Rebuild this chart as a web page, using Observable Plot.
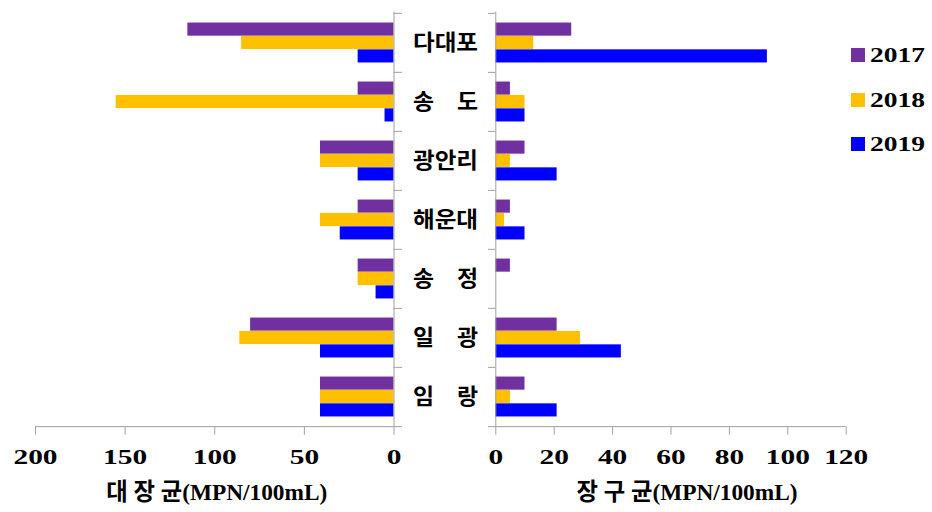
<!DOCTYPE html>
<html>
<head>
<meta charset="utf-8">
<script src="https://cdn.jsdelivr.net/npm/d3@7"></script>
<script src="https://cdn.jsdelivr.net/npm/@observablehq/plot@0.6"></script>
<style>
  html, body { margin: 0; padding: 0; background: #fff; }
  #wrap { position: relative; width: 932px; height: 512px; overflow: hidden; }
  #wrap svg { position: absolute; left: 0; top: 0; }
  .leg { position: absolute; left: 851px; height: 24px; display: flex; align-items: center;
         font-family: "Liberation Serif", "Times New Roman", serif;
         font-weight: bold; font-size: 22px; color: #000; white-space: nowrap; }
  .leg .sw { width: 14px; height: 14px; margin-right: 5px; flex: none; }
  .leg .tx { display: inline-block; transform-origin: left center; }
  #wrap svg text { font-family: "Liberation Serif", "Times New Roman", "Noto Sans CJK KR", serif; }
</style>
</head>
<body>
<div id="wrap"></div>
<script>
// ---- data ----
const sites = ["다대포", "송　도", "광안리", "해운대", "송　정", "일　광", "임　랑"];
const years = ["2017", "2018", "2019"];
const colors = ["#7030A0", "#FFC000", "#0000FF"];
const ecoli2017 = [115, 20, 41, 20, 20, 80, 41];
const ecoli2018 = [85, 155, 41, 41, 20, 86, 41];
const ecoli2019 = [20, 5, 20, 30, 10, 41, 41];
const entero2017 = [26, 5, 10, 5, 5, 21, 10];
const entero2018 = [13, 10, 5, 3, 0, 29, 5];
const entero2019 = [93, 10, 21, 10, 0, 43, 21];
const ecoliTicks = [0, 50, 100, 150, 200];
const enteroTicks = [0, 20, 40, 60, 80, 100, 120];
const ecoliTitle = "대 장 균(MPN/100mL)";
const enteroTitle = "장 구 균(MPN/100mL)";

// ---- layout ----
const W = 932, H = 512;
const mTop = 11.7, mBottom = H - 426.7;
const bw = (H - mTop - mBottom) / sites.length;
const bh = 13.4;
const off = (bw - 3 * bh) / 2;
const grey = "#a0a0a0";
const font = "'Liberation Serif','Times New Roman','Noto Sans CJK KR',serif";

const rows = (vals) => sites.map((s, i) => ({site: s, value: vals[i]}));
const barMarks = (series) => series.map((vals, k) =>
  Plot.barX(rows(vals), {
    x: "value", y: "site", fill: colors[k],
    insetTop: off + k * bh, insetBottom: bw - off - (k + 1) * bh
  }));

const last = sites[sites.length - 1];

const left = Plot.plot({
  width: W, height: H,
  marginTop: mTop, marginBottom: mBottom, marginLeft: 35, marginRight: W - 393.5,
  x: {domain: [0, 200], reverse: true},
  y: {domain: sites, padding: 0},
  style: {fontFamily: font, background: "transparent", overflow: "visible"},
  marks: [
    ...barMarks([ecoli2017, ecoli2018, ecoli2019]),
    Plot.ruleX([0], {stroke: grey}),
    Plot.ruleY(sites, {y: d => d, x1: 0, x2: 0, insetRight: -8.5, dy: -bw / 2, stroke: grey}),
    Plot.ruleY([last], {y: d => d, x1: 200, x2: 0, insetRight: -8.5, dy: bw / 2, stroke: grey}),
    Plot.axisX(ecoliTicks, {anchor: "bottom", tickSize: 8, tickPadding: 13, stroke: grey, fill: "black",
      fontSize: 22, fontWeight: "bold", label: null}),
    Plot.axisY({anchor: "right", tickSize: 0, tickPadding: 51.5, textAnchor: "middle",
      fontSize: 22, fontWeight: "bold", fill: "black", label: null}),
    Plot.text([ecoliTitle], {text: d => d, frameAnchor: "bottom", dy: 72.6, dx: 2,
      fontSize: 24, fontWeight: "bold", fill: "black"})
  ]
});

const right = Plot.plot({
  width: W, height: H,
  marginTop: mTop, marginBottom: mBottom, marginLeft: 495.3, marginRight: W - 845.7,
  x: {domain: [0, 120]},
  y: {domain: sites, padding: 0, axis: null},
  style: {fontFamily: font, background: "transparent", overflow: "visible"},
  marks: [
    ...barMarks([entero2017, entero2018, entero2019]),
    Plot.ruleX([0], {stroke: grey}),
    Plot.ruleY(sites, {y: d => d, x1: 0, x2: 0, insetLeft: -7.3, dy: -bw / 2, stroke: grey}),
    Plot.ruleY([last], {y: d => d, x1: 0, x2: 120, insetLeft: -7.3, dy: bw / 2, stroke: grey}),
    Plot.axisX(enteroTicks, {anchor: "bottom", tickSize: 8, tickPadding: 13, stroke: grey, fill: "black",
      fontSize: 22, fontWeight: "bold", label: null}),
    Plot.text([enteroTitle], {text: d => d, frameAnchor: "bottom", dy: 72.6, dx: 16,
      fontSize: 24, fontWeight: "bold", fill: "black"})
  ]
});

const wrap = document.getElementById("wrap");
for (const svg of [left, right]) {
  svg.style.background = "transparent";
  wrap.appendChild(svg);
}

// fit text widths to the reference proportions
for (const svg of [left, right]) {
  svg.querySelectorAll('g[aria-label="x-axis tick label"] text').forEach(t => {
    const n = t.textContent.length;
    t.setAttribute("textLength", (n * 14.7).toFixed(1));
    t.setAttribute("lengthAdjust", "spacingAndGlyphs");
  });
  svg.querySelectorAll('g[aria-label="text"] text').forEach(t => {
    t.setAttribute("textLength", "221");
    t.setAttribute("lengthAdjust", "spacingAndGlyphs");
  });
}
left.querySelectorAll('g[aria-label="y-axis tick label"] text').forEach(t => {
  t.setAttribute("textLength", "65");
  t.setAttribute("lengthAdjust", "spacingAndGlyphs");
});

// legend
years.forEach((yr, k) => {
  const d = document.createElement("div");
  d.className = "leg";
  d.style.top = (43 + k * 44.5) + "px";
  d.innerHTML = `<span class="sw" style="background:${colors[k]}"></span><span class="tx">${yr}</span>`;
  wrap.appendChild(d);
  const tx = d.querySelector(".tx");
  const w = tx.getBoundingClientRect().width;
  if (w > 0) tx.style.transform = `scaleX(${(55 / w).toFixed(3)})`;
});
</script>
</body>
</html>
